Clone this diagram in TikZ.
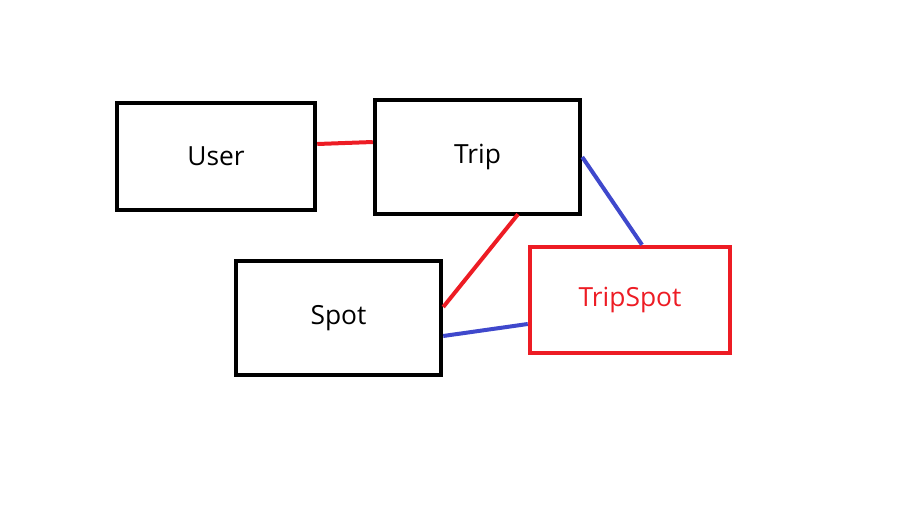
\documentclass[tikz,border=0pt]{standalone}
\usepackage{fontspec}
\setmainfont{Open Sans}
\usepackage{tikz}
\definecolor{paintred}{RGB}{237,28,36}
\definecolor{paintblue}{RGB}{63,72,204}

\begin{document}
\begin{tikzpicture}[x=0.02cm,y=-0.02cm,every node/.style={draw=black, rectangle, line width=0.09cm, inner sep=0pt, font=\fontsize{15}{18}\selectfont}]
\useasboundingbox (0,0) rectangle (911,521);
\node[minimum width=3.96cm, minimum height=2.14cm] (user) at (216,156.5) {User};
\node[minimum width=4.1cm, minimum height=2.28cm] (trip) at (477.5,157) {Trip};
\node[minimum width=4.1cm, minimum height=2.28cm] (spot) at (338.5,318) {Spot};
\node[draw=paintred, text=paintred, minimum width=4cm, minimum height=2.12cm] (tripspot) at (630,300) {TripSpot};

\draw[paintred, line width=0.08cm] ([yshift=0.25cm]user.east) -- ([yshift=0.3cm]trip.west);
\draw[paintred, line width=0.08cm] ([xshift=0.81cm, yshift=0.04cm]trip.south) -- ([yshift=0.22cm]spot.east);
\draw[paintblue, line width=0.08cm] (trip.east) -- ([xshift=0.24cm]tripspot.north);
\draw[paintblue, line width=0.08cm] ([yshift=-0.36cm]spot.east) -- ([yshift=-0.48cm]tripspot.west);
\end{tikzpicture}
\end{document}
